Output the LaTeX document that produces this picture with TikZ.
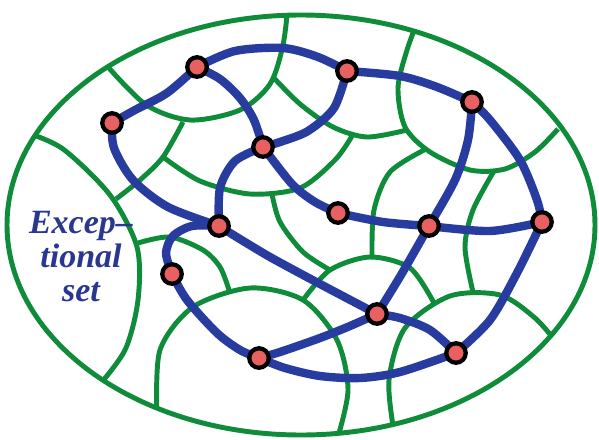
\documentclass[tikz,border=0pt]{standalone}
\usepackage{fontspec}
\setmainfont{Liberation Serif}
\usetikzlibrary{backgrounds}

\definecolor{ballgreen}{RGB}{14,140,58}
\definecolor{walkblue}{RGB}{40,60,160}
\definecolor{labelblue}{RGB}{42,55,145}
\definecolor{sitered}{RGB}{232,96,96}

\begin{document}
\begin{tikzpicture}[x=0.75pt, y=-0.75pt,
		ball/.style={line width=3.7pt, ballgreen},
		walk/.style={line width=6.3pt, walkblue, line cap=round, line join=round},
		site/.style={circle, draw=black, fill=sitered, line width=3.2pt, minimum size=14.6pt, inner sep=0pt}]
	\useasboundingbox (0,0) rectangle (599,439);
	\node [site] (p1) at (112,123) {};
	\node [site] (p2) at (197,67) {};
	\node [site] (p3) at (263,147) {};
	\node [site] (p4) at (347,71) {};
	\node [site] (p5) at (472,102) {};
	\node [site] (p6) at (338,213) {};
	\node [site] (p7) at (429,226) {};
	\node [site] (p8) at (542,222) {};
	\node [site] (p9) at (219,226) {};
	\node [site] (p10) at (172,274) {};
	\node [site] (p11) at (377,314) {};
	\node [site] (p12) at (456,353) {};
	\node [site] (p13) at (259,358) {};
	\node [font=\fontsize{25.5}{25.5}\selectfont\bfseries\itshape, text=labelblue, align=center] (exc) at (81,257) {Excep--\\tional\\set};
	\begin{scope}[on background layer]
		\begin{scope}
			\clip (301,225) ellipse [x radius=220.5pt, y radius=157.5pt];
			\draw [ball] plot [smooth] coordinates {(100,58) (145,104) (190,120) (240,110) (270,84) (283,45) (288,5)};
			\draw [ball] plot [smooth] coordinates {(25,132) (63,149) (110,195) (137,247) (138,300) (125,350) (96,389)};
			\draw [ball] plot [smooth] coordinates {(183,122) (163,157) (140,180) (116,199)};
			\draw [ball] plot [smooth] coordinates {(163,157) (200,181) (250,194) (300,188) (335,160) (352,136)};
			\draw [ball] plot [smooth] coordinates {(273,77) (300,104) (333,127) (367,137) (407,130)};
			\draw [ball] plot [smooth] coordinates {(420,15) (407,50) (398,88) (405,127) (430,152) (470,170) (505,169) (535,152) (558,129)};
			\draw [ball] plot [smooth] coordinates {(426,149) (390,172) (374,210) (372,258)};
			\draw [ball] plot [smooth] coordinates {(494,171) (473,210) (465,247) (473,292)};
			\draw [ball] plot [smooth] coordinates {(394,432) (389,380) (405,328) (450,296) (500,295) (535,318) (557,343)};
			\draw [ball] plot [smooth] coordinates {(138,243) (170,237) (203,250) (220,267) (229,290)};
			\draw [ball] plot [smooth] coordinates {(157,415) (160,350) (193,307) (250,288) (303,300) (337,340) (348,390) (337,440)};
			\draw [ball] plot [smooth] coordinates {(303,300) (330,270) (370,257) (410,268) (434,303)};
			\draw [ball] plot [smooth] coordinates {(272,194) (280,222) (303,252) (330,270)};
		\end{scope}
		\draw [ball] (301,225) ellipse [x radius=220.5pt, y radius=157.5pt];
		\draw [walk] plot [smooth] coordinates {(p1.center) (135,110) (167,93) (p2.center)};
		\draw [walk] plot [smooth] coordinates {(p2.center) (235,51) (283,48) (318,57) (p4.center)};
		\draw [walk] plot [smooth] coordinates {(p4.center) (400,76) (437,87) (p5.center)};
		\draw [walk] plot [smooth] coordinates {(p5.center) (490,120) (520,160) (537,200) (p8.center)};
		\draw [walk] plot [smooth] coordinates {(p5.center) (468,140) (455,180) (p7.center)};
		\draw [walk] plot [smooth] coordinates {(p8.center) (490,231) (p7.center)};
		\draw [walk] plot [smooth] coordinates {(p7.center) (383,222) (p6.center)};
		\draw [walk] plot [smooth] coordinates {(p6.center) (315,202) (292,184) (p3.center)};
		\draw [walk] plot [smooth] coordinates {(p3.center) (280,142) (308,131) (334,108) (p4.center)};
		\draw [walk] plot [smooth] coordinates {(p2.center) (220,79) (240,98) (254,120) (p3.center)};
		\draw [walk] plot [smooth] coordinates {(p3.center) (235,161) (220,188) (p9.center)};
		\draw [walk] plot [smooth] coordinates {(p1.center) (114,148) (133,180) (168,207) (p9.center)};
		\draw [walk] plot [smooth] coordinates {(p9.center) (192,226) (173,236) (166,253) (p10.center)};
		\draw [walk] plot [smooth] coordinates {(p10.center) (187,300) (217,333) (240,350) (p13.center)};
		\draw [walk] plot [smooth] coordinates {(p13.center) (280,352) (320,338) (350,326) (p11.center)};
		\draw [walk] plot [smooth] coordinates {(p13.center) (285,368) (320,376) (360,378) (400,372) (p12.center)};
		\draw [walk] plot [smooth] coordinates {(p9.center) (235,236) (270,257) (320,284) (p11.center)};
		\draw [walk] plot [smooth] coordinates {(p11.center) (400,318) (430,330) (p12.center)};
		\draw [walk] plot [smooth] coordinates {(p11.center) (401,275) (p7.center)};
		\draw [walk] plot [smooth] coordinates {(p12.center) (490,320) (517,273) (p8.center)};
	\end{scope}
\end{tikzpicture}
\end{document}
